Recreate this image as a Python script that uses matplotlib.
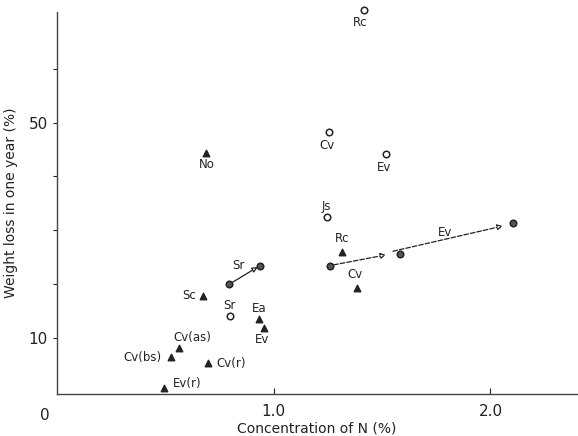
import numpy as np
import matplotlib.pyplot as plt

# open circles (labelled)
circ_names = ['Rc', 'Cv', 'Ev', 'Js', 'Sr']
circ_x = [1.415, 1.253, 1.517, 1.244, 0.798]
circ_y = [70.9, 48.2, 44.1, 32.4, 14.0]
circ_off = [(-4, -12), (-2, -13), (-2, -13), (0, 11), (-1, 11)]

# triangles (labelled)
tri_names = ['No', 'Rc', 'Cv', 'Sc', 'Ea', 'Ev', 'Cv(as)', 'Cv(bs)', 'Cv(r)', 'Ev(r)']
tri_x = [0.687, 1.313, 1.383, 0.673, 0.933, 0.956, 0.561, 0.524, 0.696, 0.492]
tri_y = [44.3, 26.0, 19.2, 17.7, 13.4, 11.7, 8.0, 6.3, 5.2, 0.6]
tri_off = [(1, -11), (1, 13), None, (-14, 1), (0, 11), (-2, -11), (14, 11), (-28, 0), (23, 0), (24, 5)]

# paired samples joined by arrows (start -> end)
pair_names = ['Sr', 'Cv', 'Ev']
pair_x0 = [0.793, 1.258, 1.531]
pair_y0 = [19.9, 23.4, 25.9]
pair_x1 = [0.937, 1.531, 2.070]
pair_y1 = [23.4, 25.5, 30.9]
pair_ls = ['-', '--', '--']
pair_lab = [(0.835, 23.4), (1.375, 21.8), (1.790, 29.5)]

# extra filled dots next to arrow heads
dot_x = [0.793, 0.937, 1.258, 1.582, 2.102]
dot_y = [19.9, 23.4, 23.4, 25.5, 31.3]

ink = '#222222'
plt.rcParams['font.family'] = 'DejaVu Sans'

fig = plt.figure(figsize=(5.78, 4.36), dpi=100)
ax = fig.add_axes([0.0986, 0.0963, 0.9, 0.876])

ax.scatter(circ_x, circ_y, s=22, facecolors='white', edgecolors=ink, linewidths=1.1, zorder=3, clip_on=False)
ax.scatter(tri_x, tri_y, s=22, marker='^', color=ink, zorder=3, clip_on=False)
ax.scatter(dot_x, dot_y, s=22, facecolors='#555555', edgecolors=ink, linewidths=1.1, zorder=3)

for n, x, y, o in zip(circ_names, circ_x, circ_y, circ_off):
    ax.annotate(n, (x, y), xytext=o, textcoords='offset pixels', ha='center', va='center',
                fontsize=8.5, color=ink, annotation_clip=False)
for n, x, y, o in zip(tri_names, tri_x, tri_y, tri_off):
    if o is None:
        continue
    ax.annotate(n, (x, y), xytext=o, textcoords='offset pixels', ha='center', va='center',
                fontsize=8.5, color=ink)

for n, x0, y0, x1, y1, ls, lp in zip(pair_names, pair_x0, pair_y0, pair_x1, pair_y1, pair_ls, pair_lab):
    ax.annotate('', xy=(x1, y1), xytext=(x0, y0),
                arrowprops=dict(arrowstyle='-|>', linestyle=ls, color=ink, lw=0.9,
                                mutation_scale=8, shrinkA=3, shrinkB=2, fc='white'))
    ax.text(lp[0], lp[1], n, ha='center', va='center', fontsize=8.5, color=ink)

ax.set_xlim(0, 2.40)
ax.set_ylim(-0.5, 70.6)
ax.spines['top'].set_visible(False)
ax.spines['right'].set_visible(False)
for s in ['left', 'bottom']:
    ax.spines[s].set_color('#444444')
    ax.spines[s].set_linewidth(1.0)

ax.set_xticks([1.0, 2.0])
ax.set_xticklabels(['1.0', '2.0'])
ax.set_yticks([10, 20, 30, 40, 50, 60])
ax.set_yticklabels(['10', '', '', '', '50', ''])
ax.tick_params(axis='x', direction='in', length=4, labelsize=11, colors=ink, pad=7)
ax.tick_params(axis='y', direction='out', length=3, labelsize=11, colors=ink)
ax.text(-0.055, -4.5, '0', ha='center', va='center', fontsize=11, color=ink)

ax.set_xlabel('Concentration of N (%)', fontsize=10, color=ink, labelpad=2)
ax.set_ylabel('Weight loss in one year (%)', fontsize=10, color=ink, labelpad=8)

fig.savefig('out.png', dpi=100)
